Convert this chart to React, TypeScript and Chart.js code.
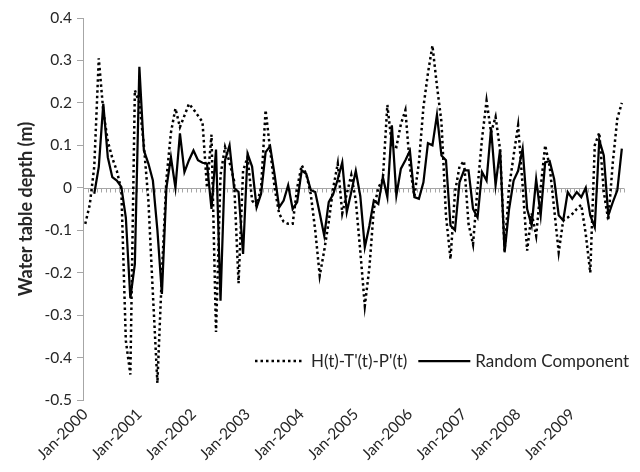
import React, { useEffect, useRef } from 'react';
import { Chart, registerables } from 'chart.js';

Chart.register(...registerables);

// Monthly categories, Jan-2000 .. Dec-2009
const years = [2000, 2001, 2002, 2003, 2004, 2005, 2006, 2007, 2008, 2009];
const monthNames = ['Jan', 'Feb', 'Mar', 'Apr', 'May', 'Jun', 'Jul', 'Aug', 'Sep', 'Oct', 'Nov', 'Dec'];
const months = years.flatMap((y) => monthNames.map((m) => `${m}-${y}`));

// H(t)-T'(t)-P'(t), metres
const residual = [
  -0.085, -0.04, 0.05, 0.305, 0.18, 0.11, 0.07, 0.04, -0.005, -0.36, -0.44, 0.23,
  0.2, 0.1, -0.03, -0.25, -0.46, -0.2, 0.02, 0.13, 0.187, 0.143, 0.17, 0.198,
  0.185, 0.17, 0.155, 0.0, 0.125, -0.34, 0.03, 0.096, 0.06, 0.017, -0.225, 0.04,
  0.072, -0.03, -0.042, 0.0, 0.183, 0.09, 0.0, -0.061, -0.08, -0.085, -0.085, 0.0,
  0.053, 0.033, -0.014, -0.1, -0.207, -0.148, -0.08, 0.0, 0.057, -0.06, -0.014, 0.03,
  -0.03, -0.15, -0.278, -0.19, -0.05, 0.0, 0.02, 0.195, 0.1, 0.096, 0.15, 0.183,
  0.05, -0.02, 0.06, 0.19, 0.27, 0.335, 0.24, 0.155, -0.065, -0.168, -0.01, 0.05,
  0.063, -0.085, -0.133, 0.0, 0.116, 0.205, 0.13, 0.167, 0.09, -0.148, 0.0, 0.076,
  0.147, 0.005, -0.148, -0.06, -0.113, 0.0, 0.1, 0.05, -0.05, -0.152, -0.077, -0.07,
  -0.062, -0.05, -0.04, -0.109, -0.2, 0.1, 0.13, -0.01, -0.077, 0.06, 0.163, 0.2,
];

// Random component, metres (first two months undefined)
const randomComponent = [
  null, null, -0.014, 0.049, 0.198, 0.072, 0.025, 0.017, 0.002, -0.07, -0.26, -0.18,
  0.285, 0.088, 0.057, 0.017, -0.1, -0.25, 0.0, 0.072, 0.0, 0.128, 0.037, 0.065,
  0.088, 0.065, 0.059, 0.057, -0.05, 0.09, -0.266, 0.065, 0.1, 0.0, -0.01, -0.156,
  0.08, 0.05, -0.046, -0.014, 0.084, 0.098, 0.03, -0.046, -0.03, 0.006, -0.05, -0.034,
  0.041, 0.033, -0.005, -0.01, -0.06, -0.113, -0.034, -0.015, 0.02, 0.06, -0.057, -0.01,
  0.04, -0.02, -0.14, -0.09, -0.03, -0.038, 0.025, -0.022, 0.147, -0.018, 0.045, 0.065,
  0.087, -0.022, -0.026, 0.013, 0.105, 0.1, 0.172, 0.076, 0.065, -0.089, -0.1, 0.013,
  0.041, 0.041, -0.05, -0.07, 0.037, 0.017, 0.14, 0.006, 0.09, -0.152, -0.05, 0.017,
  0.04, 0.092, -0.05, -0.089, 0.02, -0.065, 0.06, 0.063, 0.02, -0.065, -0.077, -0.01,
  -0.026, -0.01, -0.022, 0.0, -0.065, -0.093, 0.112, 0.076, -0.065, -0.034, -0.006, 0.092,
];

const yTicks = [-0.5, -0.4, -0.3, -0.2, -0.1, 0, 0.1, 0.2, 0.3, 0.4];

const FONT = 'Lato, "Open Sans", sans-serif';
const AXIS_GREY = '#a6a6a6';
const TEXT = '#262626';

// Grey zero line with small tick marks at every category boundary
const zeroAxis = {
  id: 'zeroAxis',
  beforeDatasetsDraw(chart: any) {
    const { ctx, chartArea, scales } = chart;
    const x = scales.x;
    const y = scales.y;
    const y0 = Math.round(y.getPixelForValue(0)) + 0.5;
    const half = (x.getPixelForValue(1) - x.getPixelForValue(0)) / 2;
    ctx.save();
    ctx.strokeStyle = AXIS_GREY;
    ctx.lineWidth = 1;
    ctx.beginPath();
    ctx.moveTo(chartArea.left, y0);
    ctx.lineTo(chartArea.right, y0);
    for (let i = 0; i <= months.length; i++) {
      const px = Math.round(x.getPixelForValue(i) - half) + 0.5;
      ctx.moveTo(px, y0);
      ctx.lineTo(px, y0 + 4);
    }
    ctx.stroke();
    ctx.restore();
  },
};

// Legend drawn inside the plot, near the bottom right
const insideLegend = {
  id: 'insideLegend',
  afterDraw(chart: any) {
    const { ctx, chartArea } = chart;
    const sampleLen = [48, 52];
    const textGap = [8, 5];
    let x = chartArea.left + 172;
    const y = chartArea.bottom - 39;
    ctx.save();
    ctx.font = `17px ${FONT}`;
    ctx.textBaseline = 'middle';
    ctx.textAlign = 'left';
    chart.data.datasets.forEach((d: any, i: number) => {
      ctx.beginPath();
      ctx.strokeStyle = d.borderColor;
      ctx.lineWidth = d.borderWidth;
      ctx.lineCap = 'butt';
      ctx.setLineDash(d.borderDash || []);
      ctx.moveTo(x, y);
      ctx.lineTo(x + sampleLen[i], y);
      ctx.stroke();
      ctx.setLineDash([]);
      x += sampleLen[i] + textGap[i];
      ctx.fillStyle = TEXT;
      ctx.fillText(d.label, x, y + 1);
      x += ctx.measureText(d.label).width + 11;
    });
    ctx.restore();
  },
};

export default function App() {
  const canvasRef = useRef<HTMLCanvasElement | null>(null);

  useEffect(() => {
    const canvas = canvasRef.current;
    if (!canvas) return;
    const chart = new Chart(canvas, {
      type: 'line',
      data: {
        labels: months,
        datasets: [
          {
            label: "H(t)-T'(t)-P'(t)",
            data: residual,
            borderColor: '#000000',
            borderWidth: 2.5,
            borderDash: [2.5, 3],
            pointRadius: 0,
            tension: 0,
            fill: false,
          },
          {
            label: 'Random Component',
            data: randomComponent,
            borderColor: '#000000',
            borderWidth: 2.25,
            pointRadius: 0,
            tension: 0,
            fill: false,
          },
        ],
      },
      options: {
        responsive: false,
        animation: false,
        layout: { padding: { top: 18, right: 5, bottom: 0, left: 0 } },
        plugins: {
          legend: { display: false },
          tooltip: { enabled: false },
        },
        scales: {
          x: {
            type: 'category',
            offset: true,
            grid: { display: false, drawTicks: false },
            border: { display: false },
            ticks: {
              autoSkip: false,
              minRotation: 45,
              maxRotation: 45,
              padding: 5,
              color: TEXT,
              font: { family: FONT, size: 15.5 },
              callback: (_v: any, i: number) => (i % 12 === 0 ? months[i] : ''),
            },
            afterFit: (s: any) => {
              s.height = 72;
            },
          },
          y: {
            min: -0.5,
            max: 0.4,
            afterBuildTicks: (s: any) => {
              s.ticks = yTicks.map((v) => ({ value: v }));
            },
            ticks: {
              padding: 5,
              color: TEXT,
              font: { family: FONT, size: 15.5 },
              callback: (v: any) => String(Number(Number(v).toFixed(1))),
            },
            grid: {
              drawOnChartArea: false,
              drawTicks: true,
              tickLength: 6,
              color: AXIS_GREY,
            },
            border: { color: AXIS_GREY, width: 1 },
            title: {
              display: true,
              text: 'Water table depth (m)',
              color: TEXT,
              font: { family: FONT, size: 18, weight: 'bold' },
              padding: { top: 15, bottom: 0 },
            },
            afterFit: (s: any) => {
              s.width = 83;
            },
          },
        },
      },
      plugins: [zeroAxis, insideLegend],
    });
    return () => chart.destroy();
  }, []);

  return (
    <div style={{ position: 'absolute', left: 0, top: 0, width: 640, height: 472, background: '#fff' }}>
      <canvas ref={canvasRef} width={640} height={472} />
    </div>
  );
}
